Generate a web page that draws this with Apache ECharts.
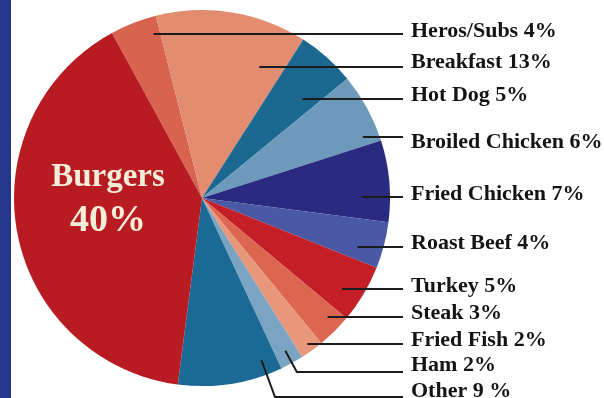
<!DOCTYPE html>
<html>
<head>
<meta charset="utf-8">
<script src="https://cdn.jsdelivr.net/npm/echarts@6/dist/echarts.min.js"></script>
<style>
  html, body { margin: 0; padding: 0; background: #ffffff; }
  #chart { width: 604px; height: 398px; }
</style>
</head>
<body>
<div id="chart"></div>
<script>
// Sandwich / entrée shares, listed clockwise from the top-left edge of the Burgers slice
const categories = ['Heros/Subs', 'Breakfast', 'Hot Dog', 'Broiled Chicken', 'Fried Chicken',
  'Roast Beef', 'Turkey', 'Steak', 'Fried Fish', 'Ham', 'Other', 'Burgers'];
const shares = [4, 13, 5, 6, 7, 4, 5, 3, 2, 2, 9, 40];
const percentSigns = ['%', '%', '%', '%', '%', '%', '%', '%', '%', '%', ' %', '%'];
const sliceColors = ['#d86450', '#e28c70', '#1b6891', '#6d9abb', '#2a2a80', '#4a59a6',
  '#c41f26', '#dc6650', '#e9977a', '#7ba3c2', '#1b6a95', '#b81c22'];

// Pie geometry (pixels)
const CX = 202, CY = 198, R = 188, START = 118.6;
const LINE_END = 403, TEXT_X = 411;

// Callout rows: leader y, text y, leader anchor radius;
// bent leaders start at a fraction of the slice's sweep and run out radially first
const calloutRows = [
  { y: 34,  ty: 31.5,  rho: 171 },
  { y: 67,  ty: 62.5,  rho: 143 },
  { y: 99,  ty: 95.5,  rho: 141 },
  { y: 137, ty: 142,   rho: 172 },
  { y: 197, ty: 194,   rho: 160 },
  { y: 247, ty: 243,   rho: 163 },
  { y: 289, ty: 286,   rho: 167 },
  { y: 317, ty: 313,   rho: 173 },
  { y: 344, ty: 340,   rho: 180 },
  { y: 372, ty: 365.5, rho: 174, bend: 0.5 },
  { y: 397, ty: 391.5, rho: 173, bend: 0.15 },
  null
];

const total = shares.reduce((a, b) => a + b, 0);
// start / end angle (degrees, counter-clockwise from east) of each slice, drawn clockwise
const sliceAngles = [];
let acc = START;
shares.forEach(v => {
  const sweep = v / total * 360;
  sliceAngles.push([acc, acc - sweep]);
  acc -= sweep;
});

function leaderPoints(i) {
  const row = calloutRows[i];
  const [a0, a1] = sliceAngles[i];
  if (row.bend !== undefined) {
    const th = (a0 + (a1 - a0) * row.bend) * Math.PI / 180;
    const ax = CX + row.rho * Math.cos(th);
    const ay = CY - row.rho * Math.sin(th);
    const k = (row.y - ay) / (-Math.sin(th));
    const ex = ax + k * Math.cos(th);
    return [[ax, ay], [ex, row.y], [LINE_END, row.y]];
  }
  const mid = (a0 + a1) / 2 * Math.PI / 180;
  const dy = CY - row.y;
  const dx = Math.sqrt(Math.max(row.rho * row.rho - dy * dy, 0));
  const ax = CX + (Math.cos(mid) < 0 ? -dx : dx);
  return [[ax, row.y], [LINE_END, row.y]];
}

const leaderGraphics = categories
  .map((name, i) => calloutRows[i] ? {
    type: 'polyline',
    shape: { points: leaderPoints(i) },
    style: { stroke: '#1c1c1c', lineWidth: 2, fill: null },
    silent: true,
    z: 100
  } : null)
  .filter(Boolean);

const data = categories.map((name, i) => {
  const item = {
    name: name,
    value: shares[i],
    itemStyle: { color: sliceColors[i] }
  };
  if (name === 'Burgers') {
    item.label = {
      formatter: '{a|{b}}\n{n|{c}%}',
      rich: {
        a: { fontFamily: 'Liberation Serif', fontWeight: 'bold', fontSize: 33, lineHeight: 44, color: '#f4eed9', align: 'center' },
        n: { fontFamily: 'Liberation Serif', fontWeight: 'bold', fontSize: 38, lineHeight: 44, color: '#f4eed9', align: 'center' }
      }
    };
  }
  return item;
});

const chart = echarts.init(document.getElementById('chart'), null, { renderer: 'canvas' });
chart.setOption({
  backgroundColor: '#ffffff',
  animation: false,
  graphic: [{
    type: 'rect',
    shape: { x: 0, y: 0, width: 11, height: 398 },
    style: { fill: '#24378a' },
    z: 10
  }].concat(leaderGraphics),
  series: [{
    type: 'pie',
    center: [CX, CY],
    radius: R,
    startAngle: START,
    clockwise: true,
    avoidLabelOverlap: false,
    data: data,
    label: {
      show: true,
      position: 'outside',
      formatter: p => p.name + ' ' + p.value + percentSigns[p.dataIndex],
      fontFamily: 'Liberation Serif',
      fontWeight: 'bold',
      fontSize: 22,
      color: '#141414'
    },
    labelLine: { show: false },
    emphasis: { disabled: true },
    labelLayout: function (p) {
      const i = p.dataIndex;
      if (categories[i] === 'Burgers') {
        return { x: 108, y: 199, align: 'center', verticalAlign: 'middle' };
      }
      return {
        x: TEXT_X,
        y: calloutRows[i].ty,
        align: 'left',
        verticalAlign: 'middle'
      };
    }
  }]
});
</script>
</body>
</html>
